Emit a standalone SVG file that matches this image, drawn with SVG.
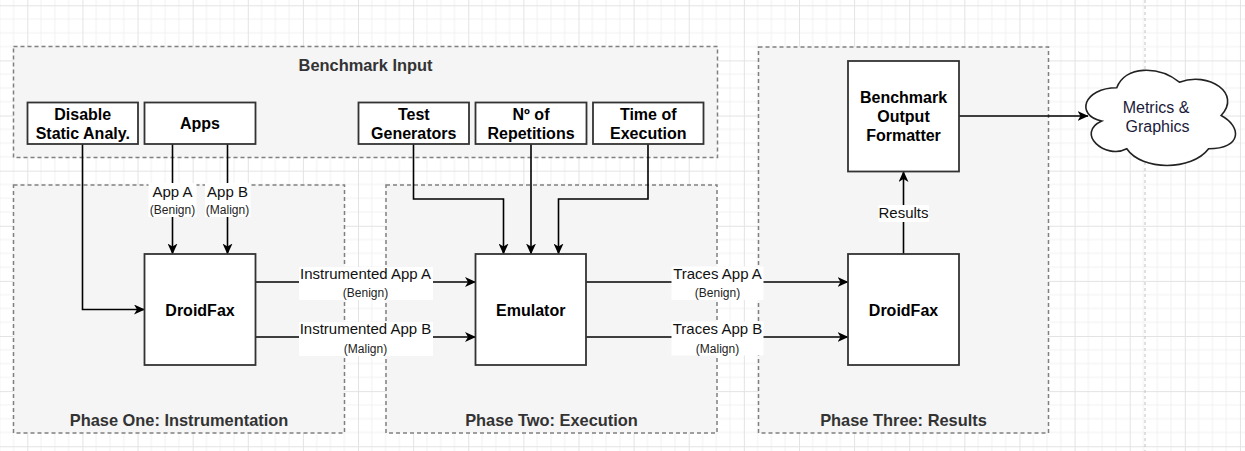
<svg xmlns="http://www.w3.org/2000/svg" width="1245" height="451" viewBox="0 0 1245 451">
<style>
.cont{fill:#f5f5f5;stroke:#808080;stroke-width:1.5;stroke-dasharray:4 3}
.ctitle{font-family:"Liberation Sans",Arial,sans-serif;font-weight:bold;font-size:16.4px;fill:#333;text-anchor:middle}
.node{fill:#fff;stroke:#333;stroke-width:1.8}
.ntext{font-family:"Liberation Sans",Arial,sans-serif;font-weight:bold;font-size:16px;fill:#000;text-anchor:middle}
.edge{fill:none;stroke:#000;stroke-width:1.6}
.lbg{fill:#fff}
.lbl{font-family:"Liberation Sans",Arial,sans-serif;font-size:15px;fill:#111;text-anchor:middle}
.sub{font-family:"Liberation Sans",Arial,sans-serif;font-size:12px;fill:#222;text-anchor:middle}
.cloudtext{font-family:"Liberation Sans",Arial,sans-serif;font-size:16px;fill:#1a1a3a;text-anchor:middle}
</style>
<defs>
<pattern id="grid" x="27.3" y="5.3" width="55.12" height="55.12" patternUnits="userSpaceOnUse">
<path d="M13.78,0V55.12M27.56,0V55.12M41.34,0V55.12M0,13.78H55.12M0,27.56H55.12M0,41.34H55.12" stroke="#f1f1f1" stroke-width="1" fill="none"/>
<path d="M0.5,0V55.12M0,0.5H55.12" stroke="#e3e3e3" stroke-width="1" fill="none"/>
</pattern>
<marker id="arr" viewBox="0 0 11 10" refX="10.5" refY="5" markerWidth="11" markerHeight="10" markerUnits="userSpaceOnUse" orient="auto">
<path d="M0,0 L11,5 L0,10 L3,5 Z" fill="#000"/>
</marker>
</defs>
<rect width="1245" height="451" fill="#fff"/>
<rect width="1245" height="451" fill="url(#grid)"/>
<line x1="1145" y1="0" x2="1145" y2="451" stroke="#c4c4c4" stroke-width="1" stroke-dasharray="3 3"/>

<g id="benchmark-input">
<rect class="cont" x="13.5" y="46.5" width="704" height="111"/>
<text class="ctitle" x="365.5" y="70.7">Benchmark Input</text>
</g>
<g id="phase-one">
<rect class="cont" x="13.5" y="185" width="331" height="248"/>
<text class="ctitle" x="179" y="425.7">Phase One: Instrumentation</text>
</g>
<g id="phase-two">
<rect class="cont" x="386" y="185" width="331" height="248"/>
<text class="ctitle" x="551.5" y="425.7">Phase Two: Execution</text>
</g>
<g id="phase-three">
<rect class="cont" x="758.5" y="47" width="290" height="386"/>
<text class="ctitle" x="903.5" y="425.7">Phase Three: Results</text>
</g>

<g id="connectors">
<path class="edge" d="M82.5,144 V309.5 H144.5" marker-end="url(#arr)"/>
<path class="edge" d="M172.5,144 V254" marker-end="url(#arr)"/>
<path class="edge" d="M227.5,144 V254" marker-end="url(#arr)"/>
<path class="edge" d="M255.5,282 H475.5" marker-end="url(#arr)"/>
<path class="edge" d="M255.5,337 H475.5" marker-end="url(#arr)"/>
<path class="edge" d="M413.5,144 V199 H503.5 V254" marker-end="url(#arr)"/>
<path class="edge" d="M531,144 V254" marker-end="url(#arr)"/>
<path class="edge" d="M648,144 V199 H558.5 V254" marker-end="url(#arr)"/>
<path class="edge" d="M586,282 H848" marker-end="url(#arr)"/>
<path class="edge" d="M586,337 H848" marker-end="url(#arr)"/>
<path class="edge" d="M903.5,254 V171.5" marker-end="url(#arr)"/>
<path class="edge" d="M958.5,116 H1088" marker-end="url(#arr)"/>

<rect class="lbg" x="148.5" y="183" width="48" height="34"/>
<text class="lbl" x="172.5" y="196.7">App A</text>
<text class="sub" x="172.5" y="214">(Benign)</text>
<rect class="lbg" x="205" y="183" width="45.5" height="34"/>
<text class="lbl" x="227.5" y="196.7">App B</text>
<text class="sub" x="227.5" y="214">(Malign)</text>

<rect class="lbg" x="299" y="267" width="134" height="33"/>
<text class="lbl" x="365.5" y="279">Instrumented App A</text>
<text class="sub" x="365.5" y="297">(Benign)</text>
<rect class="lbg" x="299" y="322" width="134" height="34"/>
<text class="lbl" x="365.5" y="334.3">Instrumented App B</text>
<text class="sub" x="365.5" y="352.5">(Malign)</text>

<rect class="lbg" x="671.5" y="266.5" width="92" height="33.5"/>
<text class="lbl" x="717.5" y="279">Traces App A</text>
<text class="sub" x="717.5" y="297">(Benign)</text>
<rect class="lbg" x="671.5" y="321.5" width="92" height="34"/>
<text class="lbl" x="717.5" y="334.3">Traces App B</text>
<text class="sub" x="717.5" y="352.5">(Malign)</text>

<rect class="lbg" x="878.5" y="205" width="50.5" height="17"/>
<text class="lbl" x="903.5" y="217.7">Results</text>
</g>

<g id="disable-static">
<rect class="node" x="27.5" y="102.5" width="110.5" height="41.5"/>
<text class="ntext" x="82.75" y="120">Disable</text>
<text class="ntext" x="82.75" y="139">Static Analy.</text>
</g>
<g id="apps">
<rect class="node" x="144.5" y="102.5" width="111" height="41.5"/>
<text class="ntext" x="200" y="129.3">Apps</text>
</g>
<g id="test-generators">
<rect class="node" x="358.5" y="102.5" width="110.5" height="41.5"/>
<text class="ntext" x="413.75" y="119.5">Test</text>
<text class="ntext" x="413.75" y="138.5">Generators</text>
</g>
<g id="repetitions">
<rect class="node" x="475.5" y="102.5" width="111" height="41.5"/>
<text class="ntext" x="531" y="119.5">Nº of</text>
<text class="ntext" x="531" y="138.5">Repetitions</text>
</g>
<g id="time-of-execution">
<rect class="node" x="593" y="102.5" width="110.5" height="41.5"/>
<text class="ntext" x="648.25" y="119.5">Time of</text>
<text class="ntext" x="648.25" y="138.5">Execution</text>
</g>
<g id="droidfax-1">
<rect class="node" x="144.5" y="254" width="111" height="111"/>
<text class="ntext" x="200" y="315.5">DroidFax</text>
</g>
<g id="emulator">
<rect class="node" x="475.5" y="254" width="110.5" height="111"/>
<text class="ntext" x="530.75" y="315.5">Emulator</text>
</g>
<g id="droidfax-2">
<rect class="node" x="848" y="254" width="111" height="111"/>
<text class="ntext" x="903.5" y="315.5">DroidFax</text>
</g>
<g id="output-formatter">
<rect class="node" x="848" y="61" width="111" height="110.5"/>
<text class="ntext" x="903.5" y="103.3">Benchmark</text>
<text class="ntext" x="903.5" y="122.3">Output</text>
<text class="ntext" x="903.5" y="141">Formatter</text>
</g>
<g id="metrics-graphics">
<path d="M1116.75,87.75 C1083.35,87.75 1075,115.5 1101.72,121.05 C1075,133.26 1105.06,159.9 1126.77,148.8 C1141.8,171 1191.9,171 1208.6,148.8 C1242,148.8 1242,126.6 1221.13,115.5 C1242,93.3 1208.6,71.1 1179.38,82.2 C1158.5,65.55 1125.1,65.55 1116.75,87.75 Z" fill="#fff" stroke="#222" stroke-width="1.6"/>
<text class="cloudtext" x="1156" y="112.7">Metrics &amp;</text>
<text class="cloudtext" x="1157.5" y="131.7">Graphics</text>
</g>
</svg>
